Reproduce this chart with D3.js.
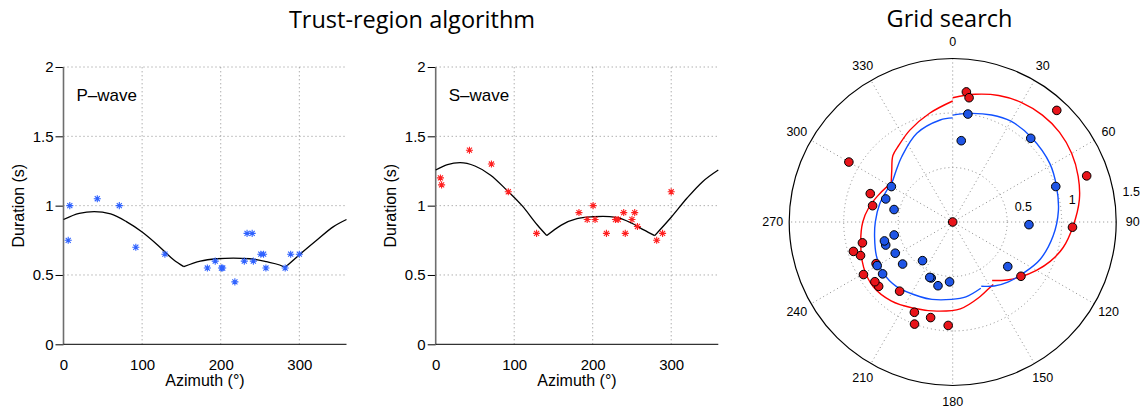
<!DOCTYPE html>
<html><head><meta charset="utf-8">
<script src="https://cdn.jsdelivr.net/npm/d3@7"></script>
<style>
html,body{margin:0;padding:0;background:#fff;}
svg text{font-family:"Liberation Sans",Arial,Helvetica,sans-serif;fill:#000;}
</style></head><body>
<svg id="chart" width="1143" height="410"></svg>
<script>
// ---------- DATA ----------
const pAz  = [6, 8, 43, 71, 92, 129, 183, 193, 201, 202.5, 218, 230, 233.5, 240, 241.5, 251, 254.5, 257.5, 282, 289, 300];
const pDur = [0.75, 1.0, 1.05, 1.0, 0.70, 0.65, 0.55, 0.60, 0.55, 0.55, 0.45, 0.60, 0.80, 0.80, 0.60, 0.65, 0.65, 0.55, 0.55, 0.65, 0.65];
const sAz  = [6, 7.5, 43, 71, 92.5, 128.5, 182.5, 193, 200.5, 203, 217.5, 229, 232.5, 239.5, 241.5, 250, 253.5, 257, 281.5, 289, 300];
const sDur = [1.2, 1.15, 1.4, 1.3, 1.1, 0.8, 0.95, 0.9, 1.0, 0.9, 0.8, 0.9, 0.9, 0.95, 0.8, 0.9, 0.95, 0.85, 0.75, 0.8, 1.1];

// trust-region fitted curves
const pFitAz  = [0, 20, 39, 60, 80, 100, 120, 140, 153, 174, 195, 216, 237, 258, 275, 282, 301, 322, 343, 360];
const pFitDur = [0.90, 0.945, 0.957, 0.94, 0.885, 0.81, 0.715, 0.61, 0.56, 0.60, 0.617, 0.622, 0.617, 0.596, 0.572, 0.555, 0.65, 0.75, 0.847, 0.90];
const pFitCusps = [153, 282];
const sFitAz  = [0, 15, 31, 50, 70, 90, 110, 130, 141.5, 160, 180, 200, 213, 230, 250, 265, 279, 300, 320, 340, 360];
const sFitDur = [1.257, 1.296, 1.31, 1.286, 1.22, 1.115, 1.0, 0.857, 0.784, 0.86, 0.906, 0.92, 0.923, 0.916, 0.873, 0.825, 0.784, 0.916, 1.053, 1.173, 1.257];
const sFitCusps = [141.5, 279];

// grid-search fitted curves (polar)
const gsPAz = [0, 8, 20, 30, 43, 59, 71, 84, 98, 113, 126, 137, 147, 156, 157, 170, 181, 195, 204, 221, 234, 246, 259, 270, 284, 296, 303, 312, 322, 338, 353, 360];
const gsPR  = [0.98, 1.006, 1.045, 1.068, 1.06, 1.04, 1.007, 0.975, 0.93, 0.873, 0.80, 0.75, 0.70, 0.645, 0.66, 0.697, 0.71, 0.735, 0.748, 0.785, 0.79, 0.766, 0.73, 0.71, 0.69, 0.67, 0.665, 0.70, 0.76, 0.878, 0.943, 0.955];
const gsPJumps = [156], gsPCusps = [];
const gsSAz = [0, 10, 20, 30, 40, 50, 60, 70, 80, 92, 103, 112, 120, 129, 137, 146, 147, 150, 160, 175, 190, 205, 218, 231, 243, 257, 270, 280, 289, 297, 302, 310, 318, 325, 335, 348, 360];
const gsSR  = [1.14, 1.19, 1.235, 1.265, 1.28, 1.28, 1.26, 1.225, 1.18, 1.105, 1.04, 0.965, 0.887, 0.80, 0.727, 0.647, 0.685, 0.69, 0.73, 0.80, 0.83, 0.87, 0.918, 0.94, 0.917, 0.866, 0.825, 0.78, 0.73, 0.69, 0.665, 0.73, 0.82, 0.86, 0.93, 1.02, 1.11];
const gsSJumps = [146], gsSCusps = [302];
const gsSExtraAz = [0], gsSExtraR = [0];

const yTicks = [0, 0.5, 1, 1.5, 2];
const xTicks = [0, 100, 200, 300];
const angTicks = [0, 30, 60, 90, 120, 150, 180, 210, 240, 270, 300, 330];
const rTicks = [0.5, 1, 1.5];

// ---------- HELPERS ----------
function segments(az, val, jumps, cusps) {
  const segs = [[]];
  az.forEach((a, i) => {
    const p = [a, val[i]];
    segs[segs.length - 1].push(p);
    if (i < az.length - 1) {
      if (cusps.includes(a)) segs.push([p]);
      else if (jumps.includes(a)) segs.push([]);
    }
  });
  return segs.filter(s => s.length > 1);
}
const asterisk = {
  draw(ctx, size) {
    const r = Math.sqrt(size) / 2, d = r * 0.72;
    ctx.moveTo(-r, 0); ctx.lineTo(r, 0);
    ctx.moveTo(0, -r); ctx.lineTo(0, r);
    ctx.moveTo(-d, -d); ctx.lineTo(d, d);
    ctx.moveTo(-d, d); ctx.lineTo(d, -d);
  }
};

const svg = d3.select("#chart");

// ---------- TITLES ----------
svg.append("text").attr("x", 412).attr("y", 28).attr("text-anchor", "middle")
  .style("font-family", "'Open Sans',sans-serif").style("font-size", "23.5px").text("Trust-region algorithm");
svg.append("text").attr("x", 949.5).attr("y", 27).attr("text-anchor", "middle")
  .style("font-family", "'Open Sans',sans-serif").style("font-size", "23.5px").text("Grid search");

// ---------- CARTESIAN PANELS ----------
function panel(x0, x1, az, dur, fitAz, fitDur, cusps, color, label) {
  const x = d3.scaleLinear().domain([0, 360]).range([x0, x1]);
  const y = d3.scaleLinear().domain([0, 2]).range([344.3, 67]);
  const g = svg.append("g");
  // grid
  g.selectAll(".gx").data(xTicks.filter(t => t > 0)).join("line")
    .attr("x1", d => x(d)).attr("x2", d => x(d)).attr("y1", y(0)).attr("y2", y(2))
    .attr("stroke", "#8c8c8c").attr("stroke-dasharray", "1,3");
  g.selectAll(".gy").data(yTicks.filter(t => t > 0)).join("line")
    .attr("x1", x(0)).attr("x2", x(360)).attr("y1", d => y(d)).attr("y2", d => y(d))
    .attr("stroke", "#8c8c8c").attr("stroke-dasharray", "1,3");
  // axes
  const ya = g.append("g").attr("transform", `translate(${x(0)},0)`)
    .call(d3.axisLeft(y).tickValues(yTicks).tickSize(8).tickPadding(2).tickFormat(d => String(d)));
  ya.select(".domain").remove();
  ya.selectAll("line").attr("stroke", "#000");
  ya.selectAll("text").style("font-size", "15px").attr("font-family", null);
  g.append("line").attr("x1", x(0)).attr("x2", x(0)).attr("y1", y(0) + 0.5).attr("y2", y(2))
    .attr("stroke", "#6e6e6e").attr("stroke-width", 1.6);
  const xa = g.append("g").attr("transform", `translate(0,${y(0)})`)
    .call(d3.axisBottom(x).tickValues(xTicks).tickSize(0).tickPadding(15).tickFormat(d => String(d)));
  xa.select(".domain").remove();
  xa.selectAll("text").style("font-size", "15px").attr("font-family", null);
  g.append("line").attr("x1", x(0)).attr("x2", x(360)).attr("y1", y(0)).attr("y2", y(0))
    .attr("stroke", "#000").attr("stroke-width", 1);
  // labels
  g.append("text").attr("x", (x0 + x1) / 2).attr("y", 386).attr("text-anchor", "middle")
    .style("font-size", "16px").text("Azimuth (°)");
  g.append("text").attr("transform", `translate(${x0 - 39.5},${(y(0) + y(2)) / 2}) rotate(-90)`)
    .attr("text-anchor", "middle").style("font-size", "16px").text("Duration (s)");
  g.append("text").attr("x", x0 + 13).attr("y", 101).style("font-size", "17px").text(label);
  // fitted curve
  const line = d3.line().x(d => x(d[0])).y(d => y(d[1])).curve(d3.curveMonotoneX);
  g.selectAll(".fit").data(segments(fitAz, fitDur, [], cusps)).join("path")
    .attr("d", line).attr("fill", "none").attr("stroke", "#000").attr("stroke-width", 1.3);
  // data points
  const sym = d3.symbol().type(asterisk).size(50);
  g.selectAll(".pt").data(az.map((a, i) => [a, dur[i]])).join("path")
    .attr("transform", d => `translate(${x(d[0])},${y(d[1])})`)
    .attr("d", sym).attr("fill", "none").attr("stroke", color).attr("stroke-width", 1.1);
}
panel(63.5, 346.5, pAz, pDur, pFitAz, pFitDur, pFitCusps, "#2f62ff", "P–wave");
panel(435.7, 718.3, sAz, sDur, sFitAz, sFitDur, sFitCusps, "#ff2020", "S–wave");

// ---------- POLAR PANEL ----------
const cx = 952.7, cy = 222;
const r = d3.scaleLinear().domain([0, 1.5]).range([0, 163.5]);
const pg = svg.append("g").attr("transform", `translate(${cx},${cy})`);
const rad = a => a * Math.PI / 180;
// spokes
pg.selectAll(".spoke").data(angTicks.filter(a => a < 180)).join("line")
  .attr("x1", d => d3.pointRadial(rad(d), r(1.5))[0]).attr("y1", d => d3.pointRadial(rad(d), r(1.5))[1])
  .attr("x2", d => d3.pointRadial(rad(d + 180), r(1.5))[0]).attr("y2", d => d3.pointRadial(rad(d + 180), r(1.5))[1])
  .attr("stroke", "#8c8c8c").attr("stroke-dasharray", "1,3");
pg.selectAll(".ring").data(rTicks.filter(t => t < 1.5)).join("circle")
  .attr("r", d => r(d)).attr("fill", "none").attr("stroke", "#8c8c8c").attr("stroke-dasharray", "1,3");
pg.append("circle").attr("r", r(1.5)).attr("fill", "none").attr("stroke", "#000").attr("stroke-width", 1.2);
// angle labels
pg.selectAll(".alab").data(angTicks).join("text")
  .attr("x", d => d3.pointRadial(rad(d), 180)[0]).attr("y", d => d3.pointRadial(rad(d), 180)[1])
  .attr("text-anchor", "middle").attr("dominant-baseline", "central")
  .style("font-size", "12.5px").text(d => d);
// radial labels
pg.selectAll(".rlab").data(rTicks).join("text")
  .attr("x", d => r(d) * Math.cos(rad(8)) + 8).attr("y", d => -r(d) * Math.sin(rad(8)) - 7)
  .attr("dominant-baseline", "central").style("font-size", "12.5px").text(d => String(d));
// curves
const rline = d3.lineRadial().angle(d => rad(d[0])).radius(d => r(d[1])).curve(d3.curveCatmullRom);
pg.selectAll(".gsS").data(segments(gsSAz, gsSR, gsSJumps, gsSCusps)).join("path")
  .attr("d", rline).attr("fill", "none").attr("stroke", "#ff0000").attr("stroke-width", 1.4);
pg.selectAll(".gsP").data(segments(gsPAz, gsPR, gsPJumps, gsPCusps)).join("path")
  .attr("d", rline).attr("fill", "none").attr("stroke", "#1050ff").attr("stroke-width", 1.4);
// dots
const sPts = sAz.map((a, i) => [a, sDur[i]]).concat(gsSExtraAz.map((a, i) => [a, gsSExtraR[i]]));
pg.selectAll(".sdot").data(sPts).join("circle")
  .attr("cx", d => d3.pointRadial(rad(d[0]), r(d[1]))[0]).attr("cy", d => d3.pointRadial(rad(d[0]), r(d[1]))[1])
  .attr("r", 4.3).attr("fill", "#e8141a").attr("stroke", "#000").attr("stroke-width", 1);
pg.selectAll(".pdot").data(pAz.map((a, i) => [a, pDur[i]])).join("circle")
  .attr("cx", d => d3.pointRadial(rad(d[0]), r(d[1]))[0]).attr("cy", d => d3.pointRadial(rad(d[0]), r(d[1]))[1])
  .attr("r", 4.3).attr("fill", "#1f55e6").attr("stroke", "#000").attr("stroke-width", 1);
</script>
</body></html>
